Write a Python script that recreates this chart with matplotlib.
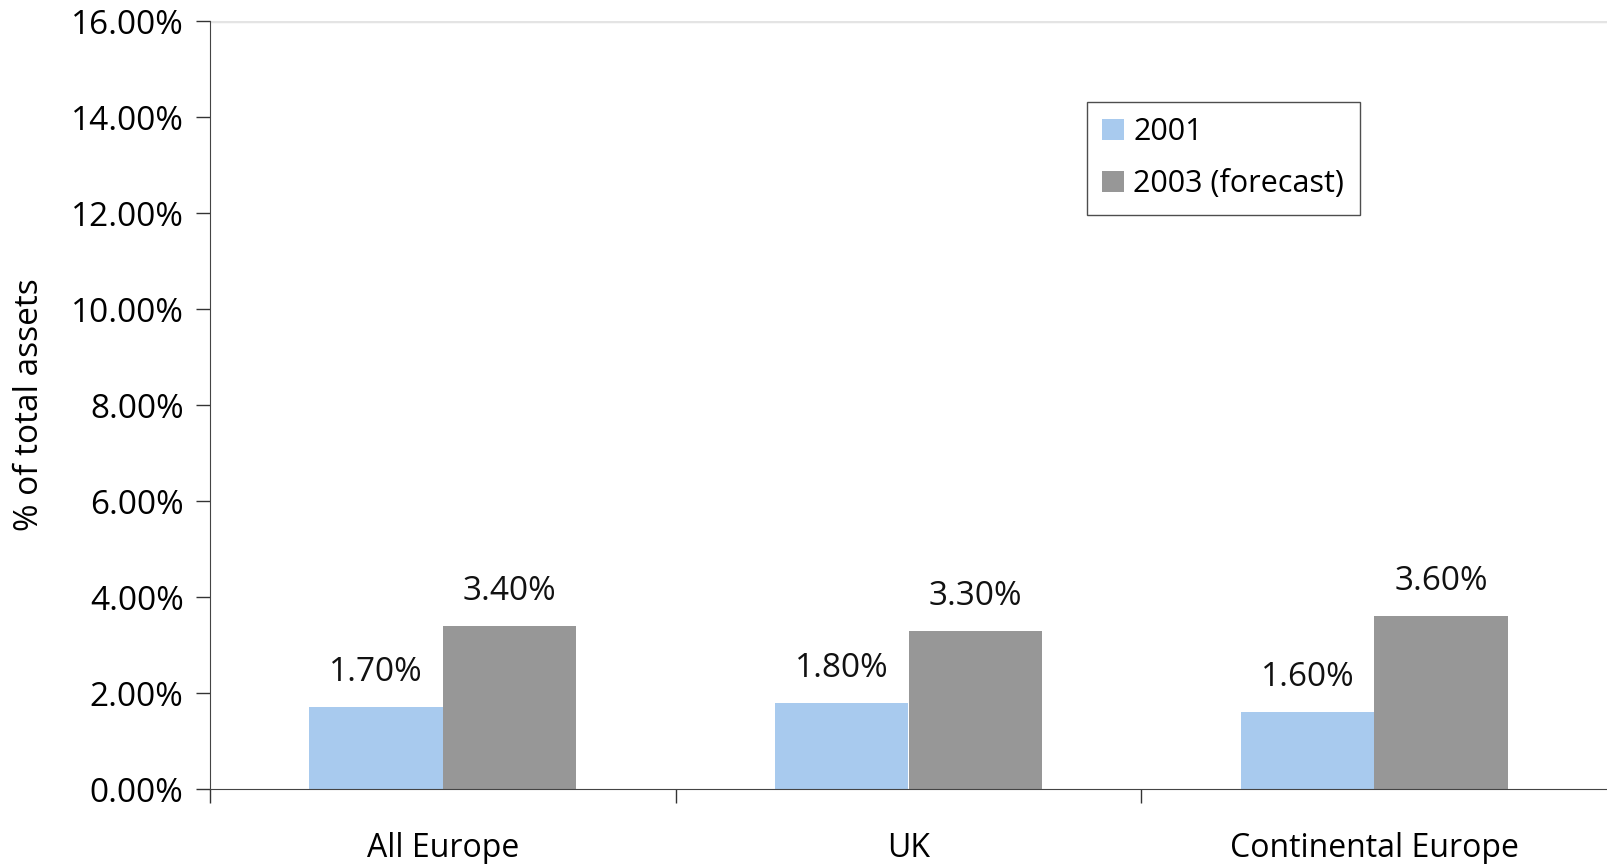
import numpy as np
import matplotlib.pyplot as plt
from matplotlib.ticker import FuncFormatter, FixedLocator

categories = ['All Europe', 'UK', 'Continental Europe']
v2001 = [1.70, 1.80, 1.60]
v2003 = [3.40, 3.30, 3.60]

plt.rcParams['font.family'] = ['Open Sans', 'DejaVu Sans']
FS = 24

fig = plt.figure(figsize=(16.07, 8.64), dpi=100)
ax = fig.add_axes([210 / 1607, 1 - 789 / 864, (1607 - 210) / 1607, (789 - 21) / 864])

x = np.arange(len(categories))
w = 0.287
b1 = ax.bar(x - w / 2, v2001, w, color='#a8caee', label='2001')
b2 = ax.bar(x + w / 2, v2003, w, color='#979797', label='2003 (forecast)')

for bars, vals in [(b1, v2001), (b2, v2003)]:
    for r, v in zip(bars, vals):
        ax.annotate(f'{v:.2f}%', (r.get_x() + r.get_width() / 2, v),
                    xytext=(0, 13), textcoords='offset points',
                    ha='center', va='bottom', fontsize=FS, color='#111111')

ax.set_xlim(-0.5, 2.5)
ax.set_ylim(0, 16)
ax.set_yticks(np.arange(0, 17, 2))
ax.yaxis.set_major_formatter(FuncFormatter(lambda v, p: f'{v:.2f}%'))
# group separators as major ticks, category names on minor ticks
ax.xaxis.set_major_locator(FixedLocator([-0.5, 0.5, 1.5]))
ax.set_xticklabels([], minor=False)
ax.set_xticks(x, minor=True)
ax.set_xticklabels(categories, minor=True)
ax.tick_params(axis='x', which='minor', length=0, pad=31, labelsize=23)
ax.tick_params(axis='x', which='major', length=10, width=1, color='#333333')
ax.tick_params(axis='y', length=10, width=1, color='#333333', labelsize=FS, pad=9)

ax.axhline(16, color='#e4e4e4', lw=2.5, zorder=0)
for s in ['top', 'right']:
    ax.spines[s].set_visible(False)
ax.spines['left'].set_color('#444444')
ax.spines['bottom'].set_color('#444444')

ax.set_ylabel('% of total assets', fontsize=FS, labelpad=18)

leg = ax.legend(loc='upper left', bbox_to_anchor=((1087 - 210) / 1397, 1 - (102 - 21) / 768),
                fontsize=22, frameon=True, fancybox=False, edgecolor='#222222',
                handlelength=0.72, handleheight=0.72, handletextpad=0.3,
                borderpad=0.5, labelspacing=0.72, borderaxespad=0)
leg.get_frame().set_linewidth(1.0)

fig.savefig('out.png', dpi=100)
